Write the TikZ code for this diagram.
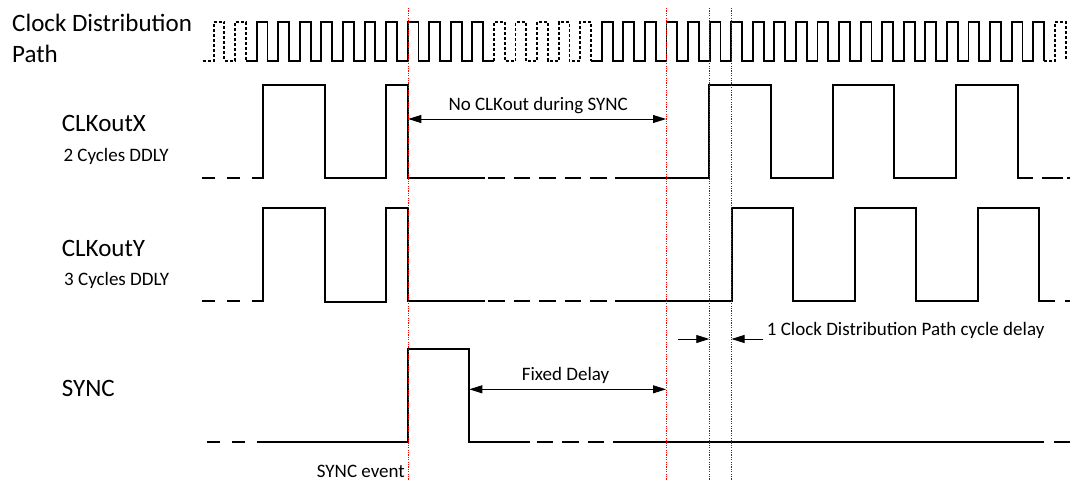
\documentclass[tikz,border=0pt]{standalone}
\usepackage{fontspec}
\setmainfont{Carlito}
\usepackage{tikz}
\usetikzlibrary{arrows.meta}

\begin{document}
\begin{tikzpicture}[x=1pt, y=-1pt,
  sig/.style={line width=1.9pt, line join=miter},
  gapdash/.style={sig, dash pattern=on 16.7pt off 8.7pt},
  leaddash/.style={sig, dash pattern=on 13.3pt off 11.7pt},
  clkdash/.style={sig, dash pattern=on 3pt off 2pt},
  marker/.style={red, line width=0.8pt, dash pattern=on 1.2pt off 1.2pt},
  darkmarker/.style={marker, red!75!black},
  dim/.style={line width=0.8pt, -{Triangle[length=13pt, width=8pt]}},
  dimboth/.style={line width=0.8pt, {Triangle[length=13pt, width=8pt]}-{Triangle[length=13pt, width=8pt]}},
  biglbl/.style={inner sep=0pt, font=\fontsize{25}{31}\selectfont},
  smalllbl/.style={inner sep=0pt, font=\fontsize{19}{23}\selectfont},
]
\useasboundingbox (0,0) rectangle (1070,480);

\node[biglbl, anchor=base west, align=left] (lblclk) at (12,62.7) {Clock Distribution\\Path};
\node[biglbl, anchor=base west] (lblx) at (61.7,131.7) {CLKoutX};
\node[smalllbl, anchor=base west] (lblxd) at (63.3,161.7) {2 Cycles DDLY};
\node[biglbl, anchor=base west] (lbly) at (61.7,256.7) {CLKoutY};
\node[smalllbl, anchor=base west] (lblyd) at (64,285) {3 Cycles DDLY};
\node[biglbl, anchor=base west] (lblsync) at (61.7,396.7) {SYNC};

\draw[clkdash] (202.8,61) foreach \k in {0,1} {
  -- ({213.56+21.57*\k},61) -- ++(0,-39) -- ++(10.79,0) -- ++(0,39)};
\draw[sig] (246,61) foreach \k in {2,...,12} {
  -- ({213.56+21.57*\k},61) -- ++(0,-39) -- ++(10.79,0) -- ++(0,39)} -- ({213.56+21.57*13},61);
\draw[clkdash] ({213.56+21.57*13},61) foreach \k in {13,...,17} {
  -- ({213.56+21.57*\k},61) -- ++(0,-39) -- ++(10.79,0) -- ++(0,39)};
\draw[sig] ({213.56+21.57*17+10.79},61) foreach \k in {18,...,38} {
  -- ({213.56+21.57*\k},61) -- ++(0,-39) -- ++(10.79,0) -- ++(0,39)};
\draw[clkdash] ({213.56+21.57*38+10.79},61) foreach \k in {39} {
  -- ({213.56+21.57*\k},61) -- ++(0,-39) -- ++(10.79,0) -- ++(0,39)};

\draw[leaddash] (201.7,178) -- (263.3,178);
\draw[sig] (251.7,178) -- (263.3,178) -- (263.3,85) -- (325,85) -- (325,178) -- (386,178)
  -- (386,85) -- (408.3,85) -- (408.3,178) -- (485,178);
\draw[gapdash] (488.3,178) -- (616.7,178);
\draw[sig] (616.7,178) foreach \i in {0,1,2} {
  -- ({709.3+123.3*\i},178) -- ++(0,-93) -- ++(61.7,0) -- ++(0,93)} -- (1033,178);
\draw[sig] (1041.7,178) -- (1063.3,178);
\draw[sig] (1067,178) -- (1070,178);

\draw[leaddash] (201.7,301) -- (263.3,301);
\draw[sig] (251.7,301) -- (263.3,301) -- (263.3,208.3) -- (325,208.3) -- (325,302) -- (386,302)
  -- (386,208.3) -- (408.3,208.3) -- (408.3,301) -- (485,301);
\draw[gapdash] (488.3,301) -- (616.7,301);
\draw[sig] (616.7,301) foreach \i in {0,1,2} {
  -- ({731.7+123*\i},301) -- ++(0,-92.7) -- ++(61,0) -- ++(0,92.7)} -- (1055,301);
\draw[sig] (1065,301) -- (1070,301);

\draw[leaddash] (206.7,441.7) -- (258.3,441.7);
\draw[sig] (258.3,441.7) -- (408.3,441.7) -- (408.3,349.3) -- (469.3,349.3) -- (469.3,441.7) -- (530,441.7);
\draw[gapdash] (536.7,441.7) -- (614,441.7);
\draw[sig] (614,441.7) -- (1044.3,441.7);
\draw[sig] (1054.3,441.7) -- (1070,441.7);

\coordinate (mk1top) at (408.3,8);
\coordinate (mk1bot) at (408.3,480);
\coordinate (mk2top) at (666,8);
\coordinate (mk2bot) at (666,480);
\coordinate (mk3top) at (709.3,8);
\coordinate (mk3bot) at (709.3,480);
\coordinate (mk4top) at (731.5,8);
\coordinate (mk4bot) at (731.5,480);
\draw[marker] (mk1top) -- (mk1bot);
\draw[marker] (mk2top) -- (mk2bot);
\draw[darkmarker] (mk3top) -- (mk3bot);
\draw[darkmarker] (mk4top) -- (mk4bot);

\coordinate (nostart) at (408.3,119);
\coordinate (noend) at (666,119);
\draw[dimboth] (nostart) -- (noend);
\node[smalllbl, anchor=base west] (lblno) at (448.3,110.7) {No CLKout during SYNC};

\coordinate (fdstart) at (469.3,389.3);
\coordinate (fdend) at (666,389.3);
\draw[dimboth] (fdstart) -- (fdend);
\node[smalllbl, anchor=base west] (lblfd) at (521.7,380) {Fixed Delay};

\coordinate (cyca) at (678.3,339);
\coordinate (cycb) at (709.3,339);
\coordinate (cycc) at (763.3,339);
\coordinate (cycd) at (731.5,339);
\draw[dim] (cyca) -- (cycb);
\draw[dim] (cycc) -- (cycd);
\node[smalllbl, anchor=base west] (lblcyc) at (766.7,335) {1 Clock Distribution Path cycle delay};

\node[smalllbl, anchor=base east] (lblevent) at (405,477.3) {SYNC event};
\end{tikzpicture}
\end{document}
